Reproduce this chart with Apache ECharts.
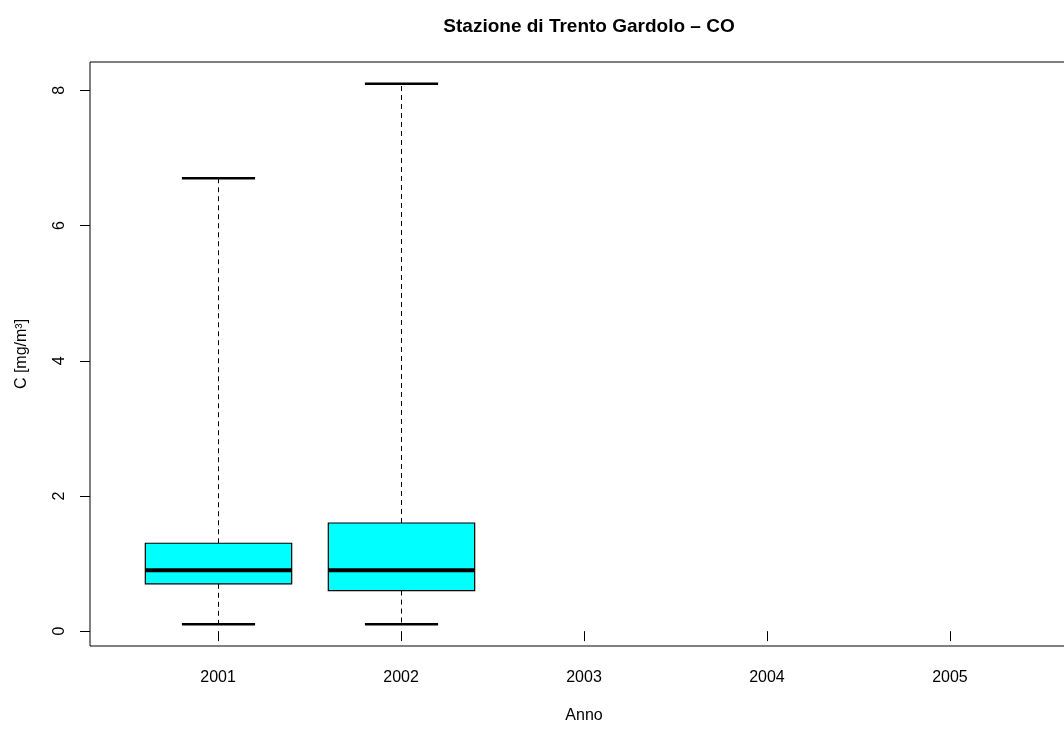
<!DOCTYPE html>
<html><head><meta charset="utf-8">
<script src="https://cdn.jsdelivr.net/npm/echarts@6/dist/echarts.min.js"></script>
<style>html,body{margin:0;padding:0;background:#fff;overflow:hidden;width:1064px;height:729px}#c{width:1090px;height:729px}</style>
</head><body><div id="c"></div>
<script>
const years = ['2001', '2002', '2003', '2004', '2005'];
const whiskerLow = [0.1, 0.1, null, null, null];
const q1 = [0.7, 0.6, null, null, null];
const medians = [0.9, 0.9, null, null, null];
const q3 = [1.3, 1.6, null, null, null];
const whiskerHigh = [6.7, 8.1, null, null, null];
const yTicks = [0, 2, 4, 6, 8];

const data = [];
years.forEach((y, i) => {
  if (medians[i] != null) data.push([i + 1, whiskerLow[i], q1[i], medians[i], q3[i], whiskerHigh[i]]);
});

const chart = echarts.init(document.getElementById('c'), null, {renderer: 'canvas'});
const FONT = 'Liberation Sans, Arial, sans-serif';
chart.setOption({
  animation: false,
  title: {
    text: 'Stazione di Trento Gardolo – CO',
    left: 584, top: 12, textAlign: 'center',
    textStyle: {fontFamily: FONT, fontSize: 19, fontWeight: 'bold', color: '#000'}
  },
  grid: {left: 90, top: 62, width: 988, height: 589, show: true, borderColor: '#000', borderWidth: 1, backgroundColor: 'transparent'},
  xAxis: {
    type: 'value', min: 0.3, max: 5.7,
    name: 'Anno', nameLocation: 'middle', nameGap: 62,
    nameTextStyle: {fontFamily: FONT, fontSize: 16, color: '#000'},
    axisLine: {show: false},
    splitLine: {show: false},
    axisTick: {show: true, length: 10, lineStyle: {color: '#000'}, customValues: [1, 2, 3, 4, 5]},
    axisLabel: {customValues: [1, 2, 3, 4, 5], formatter: v => years[Math.round(v) - 1] || '', margin: 24,
      fontFamily: FONT, fontSize: 16, color: '#000'}
  },
  yAxis: {
    type: 'value', min: -0.22, max: 8.42,
    name: 'C [mg/m³]', nameLocation: 'middle', nameGap: 60, nameRotate: 90,
    nameTextStyle: {fontFamily: FONT, fontSize: 16, color: '#000'},
    axisLine: {show: false},
    splitLine: {show: false},
    axisTick: {show: true, length: 10, lineStyle: {color: '#000'}, customValues: yTicks},
    axisLabel: {customValues: yTicks, rotate: 90, margin: 22, fontFamily: FONT, fontSize: 16, color: '#000'}
  },
  series: [{
    type: 'custom',
    data: data,
    encode: {x: 0, y: [1, 2, 3, 4, 5]},
    renderItem: function (params, api) {
      const x = api.value(0);
      const pLow = api.coord([x, api.value(1)]);
      const pQ1 = api.coord([x, api.value(2)]);
      const pMed = api.coord([x, api.value(3)]);
      const pQ3 = api.coord([x, api.value(4)]);
      const pHigh = api.coord([x, api.value(5)]);
      const halfBox = api.size([0.4, 0])[0];
      const halfCap = api.size([0.2, 0])[0];
      const cx = Math.round(pMed[0]) + 0.5;
      return {
        type: 'group',
        children: [
          {type: 'line', shape: {x1: cx, y1: pQ1[1], x2: cx, y2: pLow[1]}, style: {stroke: '#000', lineWidth: 1, lineDash: [5, 4]}},
          {type: 'line', shape: {x1: cx, y1: pQ3[1], x2: cx, y2: pHigh[1]}, style: {stroke: '#000', lineWidth: 1, lineDash: [5, 4]}},
          {type: 'line', shape: {x1: cx - halfCap, y1: pLow[1], x2: cx + halfCap, y2: pLow[1]}, style: {stroke: '#000', lineWidth: 2.5}},
          {type: 'line', shape: {x1: cx - halfCap, y1: pHigh[1], x2: cx + halfCap, y2: pHigh[1]}, style: {stroke: '#000', lineWidth: 2.5}},
          {type: 'rect', shape: {x: cx - halfBox, y: pQ3[1], width: 2 * halfBox, height: pQ1[1] - pQ3[1]}, style: {fill: '#00FFFF', stroke: '#000', lineWidth: 1.2}},
          {type: 'line', shape: {x1: cx - halfBox, y1: pMed[1], x2: cx + halfBox, y2: pMed[1]}, style: {stroke: '#000', lineWidth: 4}}
        ]
      };
    }
  }]
});
</script>
</body></html>
